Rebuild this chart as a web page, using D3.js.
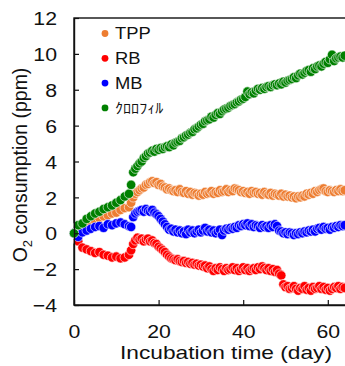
<!DOCTYPE html>
<html>
<head>
<meta charset="utf-8">
<script src="https://cdn.jsdelivr.net/npm/d3@7"></script>
<style>
    body { margin: 0; background: #fff; }
    text { font-family: "Liberation Sans", Arial, sans-serif; fill: #111; }
</style>
</head>
<body>
<div id="wrapper"></div>
<script>
// sampling days (daily at first, then twice a day)
const days = [
    0, 1, 2, 3, 4, 5, 6, 7, 8, 9, 10, 11, 12, 13,
    13.5, 14, 14.5, 15, 15.5, 16, 16.5, 17, 17.5, 18,
    18.5, 19, 19.5, 20, 20.5, 21, 21.5, 22, 22.5, 23,
    23.5, 24, 24.5, 25, 25.5, 26, 26.5, 27, 27.5, 28,
    28.5, 29, 29.5, 30, 30.5, 31, 31.5, 32, 32.5, 33,
    33.5, 34, 34.5, 35, 35.5, 36, 36.5, 37, 37.5, 38,
    38.5, 39, 39.5, 40, 40.5, 41, 41.5, 42, 42.5, 43,
    43.5, 44, 44.5, 45, 45.5, 46, 46.5, 47, 47.5, 48,
    48.5, 49, 49.5, 50, 50.5, 51, 51.5, 52, 52.5, 53,
    53.5, 54, 54.5, 55, 55.5, 56, 56.5, 57, 57.5, 58,
    58.5, 59, 59.5, 60, 60.5, 61, 61.5, 62, 62.5, 63,
    63.5, 64
];

const tpp = [
    0.0, 0.2, 0.4, 0.55, 0.6, 0.7, 0.85, 0.95, 1.0, 1.1, 1.15, 1.3, 1.4, 1.45,
    1.7, 2.0, 2.2, 2.3, 2.4, 2.5, 2.55, 2.7, 2.75, 2.85,
    2.9, 2.8, 2.85, 2.7, 2.75, 2.6, 2.55, 2.45, 2.5, 2.4,
    2.35, 2.4, 2.3, 2.45, 2.3, 2.25, 2.35, 2.2, 2.3, 2.15,
    2.25, 2.2, 2.1, 2.2, 2.15, 2.3, 2.2, 2.25, 2.35, 2.2,
    2.3, 2.25, 2.4, 2.3, 2.35, 2.45, 2.3, 2.4, 2.35, 2.5,
    2.45, 2.4, 2.3, 2.35, 2.25, 2.3, 2.2, 2.35, 2.25, 2.3,
    2.2, 2.25, 2.15, 2.3, 2.2, 2.15, 2.25, 2.1, 2.2, 2.15,
    2.1, 2.2, 2.05, 2.15, 2.05, 2.1, 2.0, 2.05, 1.95, 2.05,
    2.0, 2.1, 2.05, 2.2, 2.15, 2.25, 2.2, 2.35, 2.3, 2.4,
    2.45, 2.5, 2.35, 2.3, 2.4, 2.35, 2.3, 2.4, 2.35, 2.45,
    2.35, 2.4
];

const rb = [
    0.0, -0.45, -0.8, -0.9, -1.0, -1.1, -1.05, -1.2, -1.25, -1.35, -1.3, -1.4, -1.35, -1.2,
    -0.95, -0.6, -0.4, -0.25, -0.35, -0.3, -0.45, -0.35, -0.3, -0.45,
    -0.4, -0.55, -0.6, -0.75, -0.85, -0.95, -1.05, -1.2, -1.3, -1.4,
    -1.45, -1.5, -1.45, -1.55, -1.6, -1.55, -1.65, -1.6, -1.7, -1.65,
    -1.75, -1.7, -1.8, -1.75, -1.85, -1.8, -1.95, -1.85, -2.0, -2.1,
    -1.95, -2.05, -1.9, -2.0, -2.1, -1.95, -2.05, -2.0, -1.9, -2.05,
    -1.95, -2.1, -2.0, -1.9, -2.05, -1.95, -2.1, -2.0, -1.95, -2.05,
    -1.9, -2.0, -1.85, -1.95, -2.05, -1.95, -2.1, -2.0, -2.15, -2.05,
    -2.25, -2.35, -2.85, -3.0, -2.95, -3.1, -3.05, -2.95, -3.1, -3.2,
    -3.05, -3.1, -2.95, -3.15, -3.05, -3.2, -3.0, -3.1, -3.05, -2.95,
    -3.1, -3.0, -3.15, -3.05, -3.2, -3.1, -3.0, -3.05, -2.95, -3.1,
    -3.0, -3.05
];

const mb = [
    0.0, -0.2, 0.05, 0.15, 0.25, 0.35, 0.4, 0.3, 0.5, 0.45, 0.55, 0.6, 0.5, 0.4,
    0.35, 0.9, 1.1, 1.2, 1.25, 1.3, 1.2, 1.35, 1.25, 1.2,
    1.3, 1.15, 1.05, 0.95, 0.8, 0.65, 0.5, 0.35, 0.2, 0.25,
    0.1, 0.2, 0.05, 0.15, 0.0, 0.1, -0.05, 0.2, 0.05, 0.15,
    0.0, 0.1, 0.2, 0.05, 0.15, 0.3, 0.1, 0.2, 0.05, 0.15,
    0.0, 0.1, 0.2, -0.1, 0.15, 0.25, 0.2, 0.3, 0.25, 0.35,
    0.3, 0.45, 0.4, 0.5, 0.45, 0.55, 0.4, 0.5, 0.35, 0.45,
    0.4, 0.3, 0.45, 0.35, 0.4, 0.3, 0.45, 0.35, 0.5, 0.4,
    0.15, 0.1, 0.0, 0.05, -0.05, 0.05, 0.0, -0.1, 0.0, -0.05,
    0.05, 0.0, 0.1, 0.05, 0.15, 0.1, 0.2, 0.1, 0.25, 0.3,
    0.2, 0.35, 0.25, 0.3, 0.2, 0.35, 0.3, 0.4, 0.35, 0.45,
    0.4, 0.45
];

const chlorophyll = [
    0.0, 0.45, 0.55, 0.8, 0.95, 1.1, 1.2, 1.35, 1.45, 1.55, 1.7, 1.85, 2.05, 2.2,
    2.7, 3.4, 3.6, 3.75, 3.9, 4.0, 4.2, 4.3, 4.45, 4.5,
    4.6, 4.55, 4.7, 4.65, 4.75, 4.7, 4.8, 4.85, 4.8, 4.95,
    4.9, 5.05, 5.1, 5.15, 5.3, 5.35, 5.45, 5.5, 5.6, 5.65,
    5.8, 5.85, 5.95, 6.05, 6.1, 6.25, 6.3, 6.35, 6.5, 6.45,
    6.6, 6.7, 6.65, 6.8, 6.9, 6.95, 7.0, 7.1, 7.15, 7.2,
    7.3, 7.35, 7.45, 7.5, 7.6, 7.9, 7.75, 7.85, 7.8, 7.95,
    8.05, 8.0, 8.1, 8.05, 8.15, 8.2, 8.15, 8.25, 8.3, 8.25,
    8.35, 8.3, 8.45, 8.4, 8.5, 8.55, 8.6, 8.7, 8.65, 8.8,
    8.9, 8.85, 8.95, 9.05, 9.1, 9.0, 9.2, 9.15, 9.3, 9.35,
    9.3, 9.45, 9.55, 9.5, 9.7, 9.95, 9.6, 9.75, 9.8, 9.85,
    9.8, 9.9
];

const seriesNames = ["TPP", "RB", "MB", "ｸﾛﾛﾌｨﾙ"];
const seriesColors = ["#ED7D31", "#FF0000", "#0000FF", "#008000"];
const seriesValues = [tpp, rb, mb, chlorophyll];

const xTicks = [0, 20, 40, 60];
const yTicks = [-4, -2, 0, 2, 4, 6, 8, 10, 12];

var dimension = {
    width: 345,
    height: 366,
    margin: { top: 18, left: 74, bottom: 61 }
}
dimension.plotHeight = dimension.height - dimension.margin.top - dimension.margin.bottom;

// x runs off the right edge of the picture, as in the original
const x = d3.scaleLinear()
    .domain([0, 70])
    .range([dimension.margin.left, dimension.margin.left + 70 * 4.23]);
const y = d3.scaleLinear()
    .domain([-4, 12])
    .range([dimension.margin.top + dimension.plotHeight, dimension.margin.top]);

const svg = d3.select("#wrapper")
    .append("svg")
    .attr("width", dimension.width)
    .attr("height", dimension.height);

const stretch = "scale(1.15,1)";

// frame
svg.append("rect")
    .attr("x", x(0))
    .attr("y", y(12))
    .attr("width", x(70) - x(0))
    .attr("height", y(-4) - y(12))
    .attr("fill", "none")
    .attr("stroke", "#111")
    .attr("stroke-width", 1.4);

// points
seriesValues.forEach((vals, s) => {
    svg.append("g")
        .selectAll("circle")
        .data(vals.map((v, i) => ({ day: days[i], value: v })))
        .enter()
        .append("circle")
        .attr("cx", d => x(d.day))
        .attr("cy", d => y(d.value))
        .attr("r", 4.7)
        .attr("fill", seriesColors[s])
        .attr("stroke", "#fff")
        .attr("stroke-opacity", 0.75)
        .attr("stroke-width", 0.8);
});

// axes, ticks pointing inward
const xAxis = svg.append("g")
    .attr("transform", `translate(0,${y(-4)})`)
    .call(d3.axisBottom(x).tickValues(xTicks).tickSizeInner(-5).tickSizeOuter(0));
xAxis.select(".domain").attr("stroke", "#111").attr("stroke-width", 1.4);
xAxis.selectAll(".tick line").attr("stroke", "#111").attr("stroke-width", 1.2);
xAxis.selectAll(".tick text")
    .attr("y", 0)
    .attr("dy", null)
    .attr("transform", "translate(0,32.5) " + stretch)
    .style("font-size", "18.5px")
    .style("font-family", "Liberation Sans, Arial, sans-serif")
    .attr("fill", "#111");

const yAxis = svg.append("g")
    .attr("transform", `translate(${x(0)},0)`)
    .call(d3.axisLeft(y).tickValues(yTicks).tickSizeInner(-5).tickSizeOuter(0));
yAxis.select(".domain").attr("stroke", "#111").attr("stroke-width", 1.4);
yAxis.selectAll(".tick line").attr("stroke", "#111").attr("stroke-width", 1.2);
yAxis.selectAll(".tick text")
    .attr("x", 0)
    .attr("dy", "0.36em")
    .attr("transform", "translate(-17,0) " + stretch)
    .style("font-size", "18.5px")
    .style("font-family", "Liberation Sans, Arial, sans-serif")
    .attr("fill", "#111");

// axis titles
svg.append("text")
    .attr("x", 120)
    .attr("y", 359)
    .attr("textLength", 212)
    .attr("lengthAdjust", "spacingAndGlyphs")
    .style("font-size", "19px")
    .text("Incubation time (day)");

const yTitle = svg.append("text")
    .attr("transform", "translate(27,165) rotate(-90)")
    .attr("text-anchor", "middle")
    .style("font-size", "19.5px");
yTitle.append("tspan").text("O");
yTitle.append("tspan").attr("dy", 5).style("font-size", "13px").text("2");
yTitle.append("tspan").attr("dy", -5).text(" consumption (ppm)");

// legend
const legend = svg.append("g")
    .selectAll("g")
    .data(seriesNames)
    .enter()
    .append("g")
    .attr("transform", (d, i) => `translate(105,${33.5 + i * 24.8})`);
legend.append("circle")
    .attr("r", 3.4)
    .attr("fill", (d, i) => seriesColors[i]);
legend.append("text")
    .attr("transform", (d, i) => "translate(10,5.5) " + stretch)
    .style("font-size", (d, i) => i === 3 ? "14px" : "16px")
    .style("font-family", (d, i) => i === 3 ? "Noto Sans CJK JP" : null)
    .attr("fill", (d, i) => i === 3 ? "#333" : "#111")
    .text(d => d);
</script>
</body>
</html>
